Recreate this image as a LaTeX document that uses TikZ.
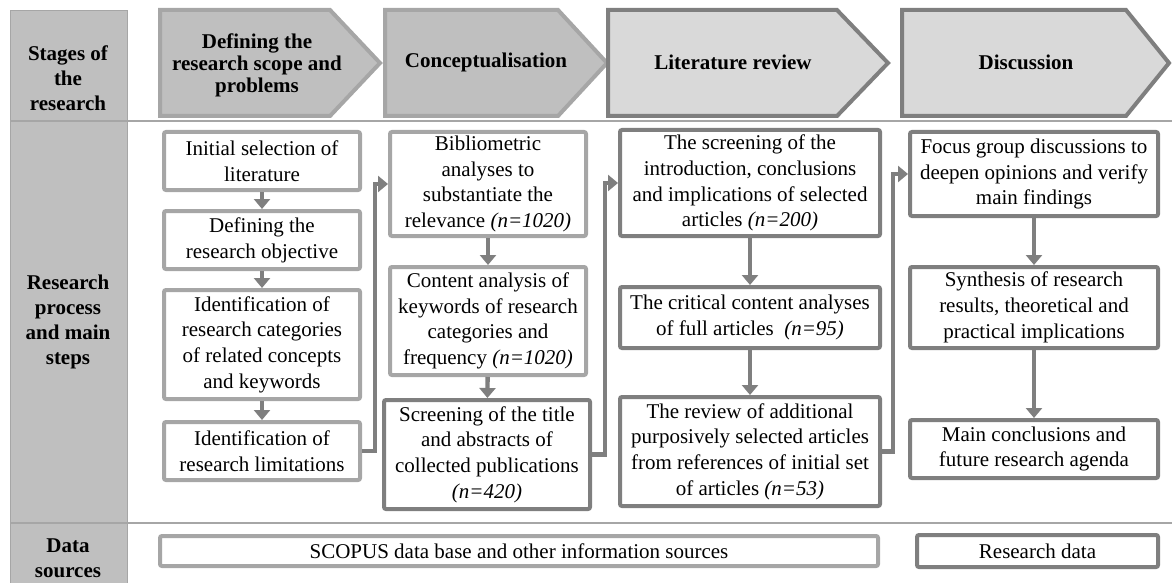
\documentclass[tikz,border=0pt]{standalone}
\usepackage{fontspec}
\setmainfont{Liberation Serif}
\usetikzlibrary{arrows.meta}
\definecolor{gfill}{HTML}{BFBFBF}
\definecolor{gpale}{HTML}{D9D9D9}
\definecolor{gline}{HTML}{A6A6A6}
\definecolor{gdark}{HTML}{7F7F7F}

\begin{document}
\begin{tikzpicture}[x=0.5pt,y=-0.5pt,
    font=\fontsize{10.5}{12.85}\selectfont,
    lbox/.style={draw=gline,line width=2pt,fill=white,rounded corners=1pt,align=center,inner sep=1pt},
    dbox/.style={lbox,draw=gdark},
    flow/.style={draw=gdark,line width=2.2pt,-{Triangle[width=8pt,length=5pt]}},
    head/.style={font=\fontsize{10.5}{11}\selectfont\bfseries,align=center},
    side/.style={font=\fontsize{10.5}{12.5}\selectfont\bfseries,align=center}]
      \useasboundingbox (0,0) rectangle (1172,583);
      \draw [gline,fill=gfill] (10,10) rectangle (127,583);
      \draw [gline,line width=0.8pt] (10,121) -- (1172,121);
      \draw [gline,line width=0.8pt] (10,523) -- (1172,523);

      \draw [gline,fill=gfill,line width=2pt] (160,10) -- (330,10) -- (380,63) -- (330,116) -- (160,116) -- cycle;
      \draw [gline,fill=gfill,line width=2pt] (385,10) -- (558,10) -- (607,63) -- (558,116) -- (385,116) -- cycle;
      \draw [gdark,fill=gpale,line width=2pt] (608,10) -- (837,10) -- (888,63) -- (837,116) -- (608,116) -- cycle;
      \draw [gdark,fill=gpale,line width=2pt] (902,10) -- (1126,10) -- (1169,63) -- (1126,116) -- (902,116) -- cycle;

      \node [head] (scope) at (257,65) {Defining the\\research scope and\\problems};
      \node [head] (concept) at (486,62) {Conceptualisation};
      \node [head] (litrev) at (733,62) {Literature review};
      \node [head] (discuss) at (1026,62) {Discussion};

      \node [side] (stages) at (68,78) {Stages of\\the\\research};
      \node [side] (process) at (68,322) {Research\\process\\and main\\steps};
      \node [side] (sources) at (68,558) {Data\\sources};

      \node [lbox,minimum width=98pt,minimum height=29pt] (initial) at (262,161) {Initial selection of\\literature};
      \node [lbox,minimum width=98pt,minimum height=29pt] (objective) at (262,240) {Defining the\\research objective};
      \node [lbox,minimum width=98pt,minimum height=54.5pt] (categories) at (262,344.5) {Identification of\\research categories\\of related concepts\\and keywords};
      \node [lbox,minimum width=98pt,minimum height=29pt] (limits) at (262,451) {Identification of\\research limitations};

      \node [lbox,minimum width=98pt,minimum height=52pt] (biblio) at (488,184) {Bibliometric\\analyses to\\substantiate the\\relevance \textit{(n=1020)}};
      \node [lbox,minimum width=98pt,minimum height=54pt] (content) at (488,321) {Content analysis of\\keywords of research\\categories and\\frequency \textit{(n=1020)}};
      \node [dbox,minimum width=103pt,minimum height=54.5pt] (titles) at (487,454.5) {Screening of the title\\and abstracts of\\collected publications\\\textit{(n=420)}};

      \node [dbox,minimum width=130pt,minimum height=53pt] (intro) at (750,183) {The screening of the\\introduction, conclusions\\and implications of selected\\articles \textit{(n=200)}};
      \node [dbox,minimum width=130pt,minimum height=30.5pt] (critical) at (750,317.5) {The critical content analyses\\of full articles~ \textit{(n=95)}};
      \node [dbox,minimum width=130pt,minimum height=54.5pt] (additional) at (750,451.5) {The review of additional\\purposively selected articles\\from references of initial set\\of articles \textit{(n=53)}};

      \node [dbox,minimum width=124pt,minimum height=42pt] (focus) at (1034,174) {Focus group discussions to\\deepen opinions and verify\\main findings};
      \node [dbox,minimum width=124pt,minimum height=40.5pt] (synthesis) at (1034,307.5) {Synthesis of research\\results, theoretical and\\practical implications};
      \node [dbox,minimum width=124pt,minimum height=29pt] (agenda) at (1034,449) {Main conclusions and\\future research agenda};

      \node [lbox,minimum width=359pt,minimum height=15pt] (scopus) at (519,551) {SCOPUS data base and other information sources};
      \node [dbox,minimum width=120.5pt,minimum height=16pt] (resdata) at (1037.5,551) {Research data};

      \draw [flow] (initial) -- (objective);
      \draw [flow] (objective) -- (categories);
      \draw [flow] (categories) -- (limits);
      \draw [flow] (biblio) -- (content);
      \draw [flow] (content) -- (titles);
      \draw [flow] (intro) -- (critical);
      \draw [flow] (critical) -- (additional);
      \draw [flow] (focus) -- (synthesis);
      \draw [flow] (synthesis) -- (agenda);
      \draw [flow] (limits.east) -- ++(13,0) |- (biblio.west);
      \draw [flow] (titles.east) -- ++(13,0) |- (intro.west);
      \draw [flow] (additional.east) -- ++(11,0) |- (focus.west);
    \end{tikzpicture}
\end{document}
